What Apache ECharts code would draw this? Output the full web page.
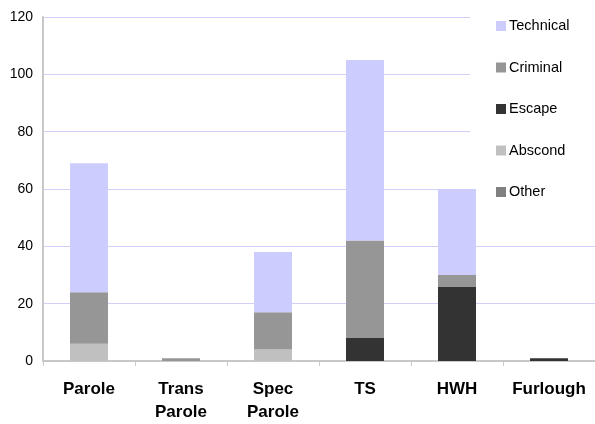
<!DOCTYPE html>
<html>
<head>
<meta charset="utf-8">
<script src="https://cdn.jsdelivr.net/npm/echarts@6/dist/echarts.min.js"></script>
<style>
  html, body { margin: 0; padding: 0; background: #fff; overflow: hidden; }
  #chart { width: 595px; height: 424px; }
</style>
</head>
<body>
<div id="chart"></div>
<script>
// Release categories (x axis)
const categories = ['Parole', 'Trans\nParole', 'Spec\nParole', 'TS', 'HWH', 'Furlough'];

// Violation counts per category, stacked bottom to top
const other     = [0, 0, 0, 0, 0, 0];
const abscond   = [6, 0, 4, 0, 0, 0];
const escape    = [0, 0, 0, 8, 26, 1];
const criminal  = [18, 1, 13, 34, 4, 0];
const technical = [45, 0, 21, 63, 30, 0];

const yTicks = [0, 20, 40, 60, 80, 100, 120];

const colors = {
  Technical: '#CCCCFF',
  Criminal: '#969696',
  Escape: '#333333',
  Abscond: '#C0C0C0',
  Other: '#808080'
};

const font = 'Liberation Sans, Arial, sans-serif';

function makeSeries(name, data) {
  return {
    name: name,
    type: 'bar',
    stack: 'total',
    barWidth: 38,
    z: 5,
    data: data,
    itemStyle: { color: colors[name] },
    emphasis: { disabled: true }
  };
}

const chart = echarts.init(document.getElementById('chart'), null, { renderer: 'canvas' });
chart.setOption({
  animation: false,
  backgroundColor: '#ffffff',
  // the plot area runs past the right edge; the legend panel sits over its top-right corner
  grid: { left: 43, top: 17, width: 557, height: 348, containLabel: false },
  legend: {
    orient: 'vertical',
    left: 470,
    top: 0,
    z: 3,
    padding: [18.5, 30, 2, 26],
    backgroundColor: '#ffffff',
    itemWidth: 10,
    itemHeight: 10,
    itemGap: 26.5,
    icon: 'rect',
    data: ['Technical', 'Criminal', 'Escape', 'Abscond', 'Other'],
    textStyle: { fontFamily: font, fontSize: 14.5, lineHeight: 15, color: '#000', padding: [0, 0, 0, -2] }
  },
  xAxis: {
    type: 'category',
    data: categories,
    axisLine: { lineStyle: { color: '#c8c8c8', width: 2 } },
    axisTick: { show: true, alignWithLabel: false, length: 5, lineStyle: { color: '#c8c8c8', width: 1 } },
    axisLabel: {
      fontFamily: font, fontSize: 17, fontWeight: 'bold', color: '#000',
      margin: 17, lineHeight: 23, interval: 0
    }
  },
  yAxis: {
    type: 'value',
    min: yTicks[0],
    max: yTicks[yTicks.length - 1],
    interval: 20,
    axisLine: { show: true, lineStyle: { color: '#c8c8c8', width: 2 } },
    axisTick: { show: false },
    axisLabel: { fontFamily: font, fontSize: 14, color: '#000', margin: 10 },
    splitLine: { show: true, lineStyle: { color: '#d0d0f8', width: 1 } }
  },
  series: [
    makeSeries('Other', other),
    makeSeries('Abscond', abscond),
    makeSeries('Escape', escape),
    makeSeries('Criminal', criminal),
    makeSeries('Technical', technical)
  ]
});
</script>
</body>
</html>
